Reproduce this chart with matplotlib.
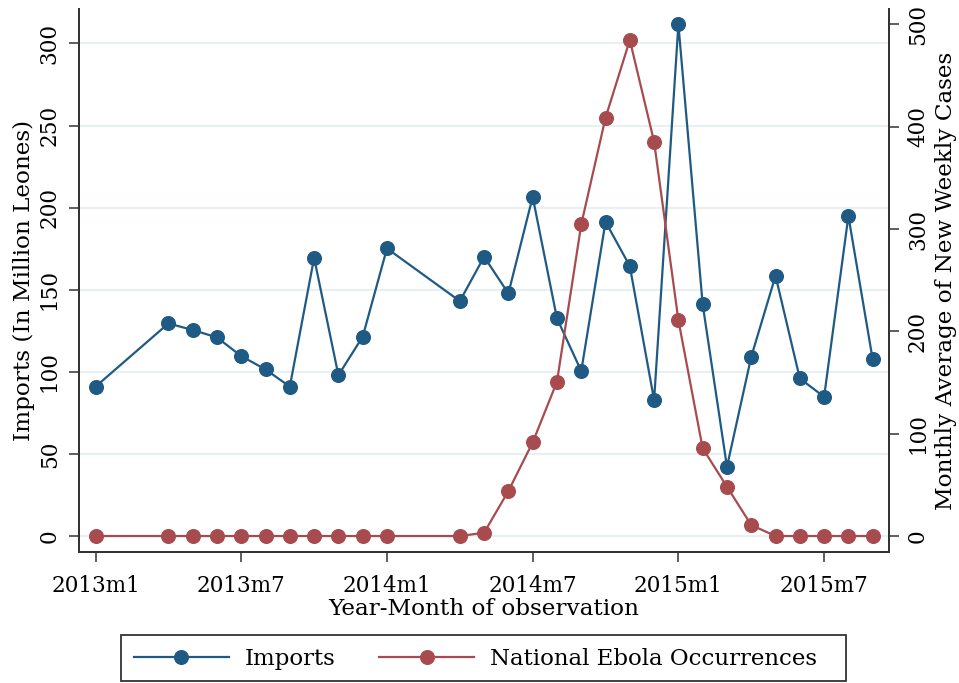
import matplotlib
matplotlib.use("Agg")
import matplotlib.pyplot as plt
from matplotlib.lines import Line2D
from matplotlib.patches import Rectangle

# months counted from 2013m1 (= 0)
months = [0, 3, 4, 5, 6, 7, 8, 9, 10, 11, 12, 15, 16, 17, 18, 19, 20,
          21, 22, 23, 24, 25, 26, 27, 28, 29, 30, 31, 32]
imports = [91, 129.5, 125.5, 121, 109.6, 101.5, 91, 169.5, 98, 121.4, 175.2,
           143.1, 170.1, 147.8, 206.6, 132.6, 100.5, 191.4, 164.4, 82.8,
           311.6, 141.1, 42.2, 109.2, 158.5, 96, 84.8, 194.9, 107.6]
ebola = [0, 0, 0, 0, 0, 0, 0, 0, 0, 0, 0, 0, 3.2, 44, 91.5, 150.8, 304.5,
         408.8, 484.7, 385.3, 211, 85.7, 48.2, 10.7, 0, 0, 0, 0, 0]

xtick_pos = [0, 6, 12, 18, 24, 30]
xtick_lab = ["2013m1", "2013m7", "2014m1", "2014m7", "2015m1", "2015m7"]

blue = "#1f5a85"
red = "#a84b4f"
axis_col = "#333333"

plt.rcParams["font.family"] = ["DejaVu Serif"]
plt.rcParams["font.size"] = 15.5

fig = plt.figure(figsize=(9.59, 6.83), dpi=100)
ax = fig.add_axes([0.0824, 0.1918, 0.9267 - 0.0824, 0.9868 - 0.1918])
ax2 = ax.twinx()

ax.plot(months, imports, color=blue, lw=1.6, marker="o", ms=9.8, zorder=3)
ax2.plot(months, ebola, color=red, lw=1.6, marker="o", ms=9.8, zorder=3)

ax.set_xlim(-0.68, 32.66)
ax.set_ylim(-9.7, 321)
ax2.set_ylim(-15.6, 515)

ax.set_xticks(xtick_pos)
ax.set_xticklabels(xtick_lab)
ax.set_yticks([0, 50, 100, 150, 200, 250, 300])
ax2.set_yticks([0, 100, 200, 300, 400, 500])

for a in (ax, ax2):
    a.spines["top"].set_visible(False)
    for s in ("left", "right", "bottom"):
        a.spines[s].set_color(axis_col)
        a.spines[s].set_linewidth(1.3)
    a.tick_params(axis="both", direction="out", length=7.2, width=1.1,
                  color=axis_col, labelsize=15.5)

ax.tick_params(axis="x", pad=9)
ax.tick_params(axis="y", labelrotation=90, pad=6)
ax2.tick_params(axis="y", labelrotation=90, pad=6)
for lab in ax.get_yticklabels() + ax2.get_yticklabels():
    lab.set_verticalalignment("center")

ax.yaxis.grid(True, color="#e8f1f2", lw=1.5)
ax.set_axisbelow(True)

ax.set_ylabel("Imports (In Million Leones)", fontsize=16.7, labelpad=3)
ax2.set_ylabel("Monthly Average of New Weekly Cases", fontsize=16.7, labelpad=4)
ax.set_xlabel("Year-Month of observation", fontsize=16.7, labelpad=1)

# legend entries without a frame, box drawn separately so it can be wider
handles = [
    Line2D([], [], color=blue, lw=1.6, marker="o", ms=9.8),
    Line2D([], [], color=red, lw=1.6, marker="o", ms=9.8),
]
fig.legend(handles, ["Imports", "National Ebola Occurrences"],
           loc="lower left", bbox_to_anchor=(0.1262, 0.001),
           ncol=2, frameon=False, handlelength=4.15, handletextpad=0.7,
           fontsize=16.5, borderaxespad=0, borderpad=0.55,
           columnspacing=1.9)
fig.patches.append(Rectangle((0.1262, 0.0022), 0.756, 0.0686,
                             transform=fig.transFigure, fill=False,
                             edgecolor=axis_col, lw=1.3))

fig.savefig("out.png", dpi=100)
